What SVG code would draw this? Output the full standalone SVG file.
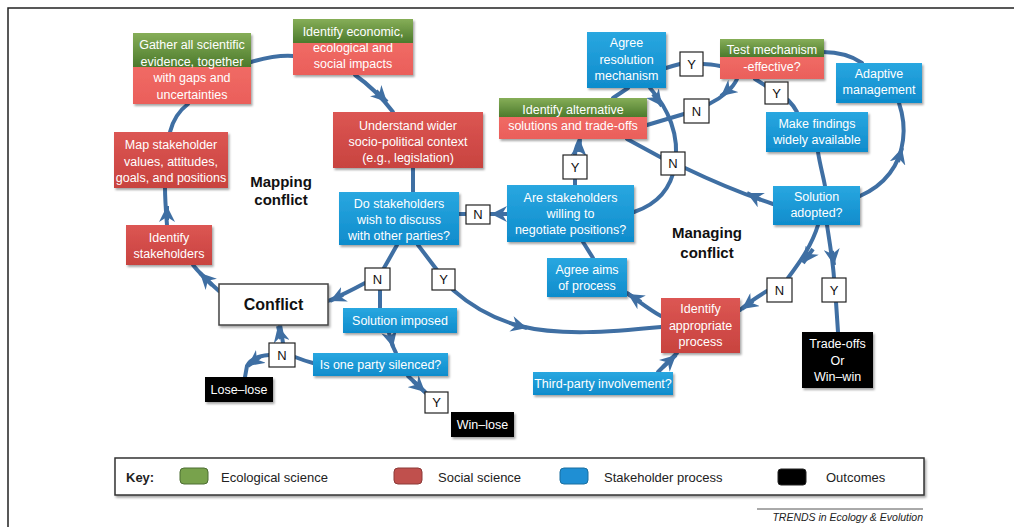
<svg xmlns="http://www.w3.org/2000/svg" width="1014" height="527" viewBox="0 0 1014 527">
<defs>
<linearGradient id="gBlue" x1="0" y1="0" x2="0" y2="1"><stop offset="0" stop-color="#29a7e0"/><stop offset="1" stop-color="#0f8ccc"/></linearGradient>
<linearGradient id="gRed" x1="0" y1="0" x2="0" y2="1"><stop offset="0" stop-color="#dc5653"/><stop offset="1" stop-color="#c8433f"/></linearGradient>
<linearGradient id="gGreen" x1="0" y1="0" x2="0" y2="1"><stop offset="0" stop-color="#86ae58"/><stop offset="1" stop-color="#4c7a2c"/></linearGradient>
<linearGradient id="gPink" x1="0" y1="0" x2="0" y2="1"><stop offset="0" stop-color="#f06a65"/><stop offset="1" stop-color="#ea5f5a"/></linearGradient>
<filter id="sh" x="-10%" y="-10%" width="130%" height="140%"><feDropShadow dx="1.5" dy="2" stdDeviation="1.2" flood-color="#000" flood-opacity="0.35"/></filter>
<marker id="ah" viewBox="0 0 16 16" markerWidth="16" markerHeight="16" refX="16" refY="8" orient="auto" markerUnits="userSpaceOnUse">
<path d="M0,0 L16,8 L0,16 L5,8 z" fill="#3f6fa3"/>
</marker>
<style>
.c{fill:none;stroke:#3f6fa3;stroke-width:4;stroke-linecap:round}
.a{fill:none;stroke:#3f6fa3;stroke-width:4;marker-end:url(#ah)}
.blue{fill:url(#gBlue);filter:url(#sh)}
.red{fill:url(#gRed);filter:url(#sh)}
.blk{fill:#050505;filter:url(#sh)}
.t{font-family:"Liberation Sans",Arial,sans-serif;font-size:12.5px;fill:#ffffff;text-anchor:middle}
.dec rect{fill:#ffffff;stroke:#222;stroke-width:1.2}
.dec text{font-family:"Liberation Sans",Arial,sans-serif;font-size:13px;fill:#111;text-anchor:middle}
.hd{font-family:"Liberation Sans",Arial,sans-serif;font-size:15px;font-weight:bold;fill:#111;text-anchor:middle}
.k{font-family:"Liberation Sans",Arial,sans-serif;font-size:13px;fill:#222}
</style>
</defs>
<rect width="1014" height="527" fill="#ffffff"/>
<path d="M8,527 L8,8 L1014,8" fill="none" stroke="#222" stroke-width="1.5"/>

<g id="connectors">
<path class="c" d="M251,62 C265,58 280,55 293,56"/>
<path class="c" d="M355,75 C368,84 380,95 393,112"/>
<path class="a" d="M376,91 L387,102"/>
<path class="c" d="M413,168 L413,192"/>
<path class="c" d="M507,214 L459,214"/>
<path class="a" d="M506,214 L491,214"/>
<path class="c" d="M575,185 L575,155 C575,148 578,144 580,139"/>
<path class="a" d="M579,152 L580,140"/>
<path class="c" d="M627,139 L662,158"/>
<path class="c" d="M685,168 C710,180 740,193 773,204"/>
<path class="a" d="M761,200 L747,193"/>
<path class="c" d="M650,88 C668,108 680,135 675,165 C671,190 655,205 634,212"/>
<path class="a" d="M653,94 L662,106"/>
<path class="c" d="M613,98 L628,88"/>
<path class="c" d="M666,68 C672,66 676,65 680,64"/>
<path class="c" d="M703,64 C710,64 715,65 720,66"/>
<path class="c" d="M737,79 C733,88 722,98 709,104"/>
<path class="a" d="M732,87 L721,96"/>
<path class="c" d="M684,114 L647,125"/>
<path class="c" d="M755,79 L766,86"/>
<path class="c" d="M788,100 C792,104 795,108 797,112"/>
<path class="c" d="M818,152 C820,165 823,175 825,186"/>
<path class="c" d="M860,196 C885,185 900,165 903,140 C905,125 902,112 899,103"/>
<path class="a" d="M898,162 L902,148"/>
<path class="c" d="M823,52 C840,52 852,56 862,63"/>
<path class="c" d="M818,225 C812,245 800,262 788,278"/>
<path class="a" d="M813,249 L803,263"/>
<path class="c" d="M767,291 C757,297 748,303 740,310"/>
<path class="a" d="M753,301 L742,309"/>
<path class="c" d="M827,225 C830,245 833,262 834,278"/>
<path class="a" d="M832,251 L834,265"/>
<path class="c" d="M836,302 L838,332"/>
<path class="c" d="M661,316 C650,310 640,302 627,293"/>
<path class="a" d="M641,302 L628,294"/>
<path class="c" d="M583,242 L593,258"/>
<path class="c" d="M658,372 L677,353"/>
<path class="a" d="M663,367 L676,355"/>
<path class="c" d="M418,245 L437,270"/>
<path class="c" d="M453,290 C470,305 490,318 520,326 C560,336 610,332 661,327"/>
<path class="a" d="M512,324 L527,328"/>
<path class="c" d="M397,245 L384,268"/>
<path class="c" d="M365,283 C352,290 340,296 328,301"/>
<path class="a" d="M343,295 L330,301"/>
<path class="c" d="M380,290 L380,308"/>
<path class="c" d="M389,333 C390,340 393,347 396,353"/>
<path class="a" d="M390,335 L393,347"/>
<path class="c" d="M313,363 C305,361 300,359 295,357"/>
<path class="c" d="M283,343 C282,336 281,330 280,325"/>
<path class="a" d="M281,339 L278,326"/>
<path class="c" d="M269,355 C257,356 250,360 247,366 L245,377"/>
<path class="a" d="M260,357 L248,366"/>
<path class="c" d="M408,376 L427,394"/>
<path class="a" d="M413,381 L425,392"/>
<path class="c" d="M219,291 C210,283 200,274 193,265"/>
<path class="a" d="M212,285 L200,273"/>
<path class="c" d="M167,225 C166,212 165,200 165,188"/>
<path class="a" d="M167,220 L167,206"/>
<path class="c" d="M170,132 C173,120 180,110 188,104"/>
</g>

<g id="n-gather">
<g filter="url(#sh)"><rect x="133" y="33" width="118" height="34" fill="url(#gGreen)"/><rect x="133" y="67" width="118" height="37" fill="url(#gPink)"/></g>
<text class="t" x="192" y="49">Gather all scientific</text>
<text class="t" x="192" y="66">evidence, together</text>
<text class="t" x="192" y="82">with gaps and</text>
<text class="t" x="192" y="99">uncertainties</text>
</g>
<g id="n-impacts">
<g filter="url(#sh)"><rect x="293" y="19" width="120" height="24" fill="url(#gGreen)"/><rect x="293" y="43" width="120" height="32" fill="url(#gPink)"/></g>
<text class="t" x="353" y="36">Identify economic,</text>
<text class="t" x="353" y="52">ecological and</text>
<text class="t" x="353" y="68">social impacts</text>
</g>
<g id="n-map">
<rect class="red" x="114" y="132" width="114" height="56"/>
<text class="t" x="171" y="149">Map stakeholder</text>
<text class="t" x="171" y="166">values, attitudes,</text>
<text class="t" x="171" y="182">goals, and positions</text>
</g>
<g id="n-identify-stakeholders">
<rect class="red" x="126" y="225" width="86" height="40"/>
<text class="t" x="169" y="242">Identify</text>
<text class="t" x="169" y="258">stakeholders</text>
</g>
<g id="n-conflict">
<rect x="219" y="284" width="109" height="41" fill="#fff" stroke="#444" stroke-width="1.5" filter="url(#sh)"/>
<text x="273.5" y="310" font-family="Liberation Sans, Arial, sans-serif" font-size="16" font-weight="bold" fill="#111" text-anchor="middle">Conflict</text>
</g>
<g id="n-understand">
<rect class="red" x="333" y="112" width="150" height="56"/>
<text class="t" x="408" y="130">Understand wider</text>
<text class="t" x="408" y="146">socio-political context</text>
<text class="t" x="408" y="162">(e.g., legislation)</text>
</g>
<g id="n-do-stakeholders">
<rect class="blue" x="339" y="192" width="120" height="53"/>
<text class="t" x="399" y="208">Do stakeholders</text>
<text class="t" x="399" y="224">wish to discuss</text>
<text class="t" x="399" y="240">with other parties?</text>
</g>
<g id="n-are-stakeholders">
<rect class="blue" x="507" y="185" width="127" height="57"/>
<text class="t" x="570.5" y="202">Are stakeholders</text>
<text class="t" x="570.5" y="218">willing to</text>
<text class="t" x="570.5" y="234">negotiate positions?</text>
</g>
<g id="n-alternatives">
<g filter="url(#sh)"><rect x="499" y="98" width="148" height="19" fill="url(#gGreen)"/><rect x="499" y="117" width="148" height="22" fill="url(#gPink)"/></g>
<text class="t" x="573" y="114">Identify alternative</text>
<text class="t" x="573" y="130">solutions and trade-offs</text>
</g>
<g id="n-agree-resolution">
<rect class="blue" x="587" y="32" width="79" height="56"/>
<text class="t" x="626.5" y="47">Agree</text>
<text class="t" x="626.5" y="64">resolution</text>
<text class="t" x="626.5" y="80">mechanism</text>
</g>
<g id="n-test">
<g filter="url(#sh)"><rect x="720" y="39" width="104" height="18" fill="url(#gGreen)"/><rect x="720" y="57" width="104" height="22" fill="url(#gPink)"/></g>
<text class="t" x="772" y="54">Test mechanism</text>
<text class="t" x="772" y="71">-effective?</text>
</g>
<g id="n-findings">
<rect class="blue" x="766" y="112" width="102" height="40"/>
<text class="t" x="817" y="128">Make findings</text>
<text class="t" x="817" y="144">widely available</text>
</g>
<g id="n-adaptive">
<rect class="blue" x="836" y="63" width="86" height="40"/>
<text class="t" x="879" y="78">Adaptive</text>
<text class="t" x="879" y="94">management</text>
</g>
<g id="n-solution-adopted">
<rect class="blue" x="773" y="186" width="87" height="39"/>
<text class="t" x="816.5" y="201">Solution</text>
<text class="t" x="816.5" y="217">adopted?</text>
</g>
<g id="n-agree-aims">
<rect class="blue" x="547" y="258" width="80" height="39"/>
<text class="t" x="587" y="274">Agree aims</text>
<text class="t" x="587" y="290">of process</text>
</g>
<g id="n-appropriate">
<rect class="red" x="661" y="298" width="79" height="55"/>
<text class="t" x="700.5" y="313">Identify</text>
<text class="t" x="700.5" y="330">appropriate</text>
<text class="t" x="700.5" y="346">process</text>
</g>
<g id="n-tradeoffs">
<rect class="blk" x="802" y="332" width="71" height="56"/>
<text class="t" x="837.5" y="348">Trade-offs</text>
<text class="t" x="837.5" y="365">Or</text>
<text class="t" x="837.5" y="381">Win–win</text>
</g>
<g id="n-third-party">
<rect class="blue" x="533" y="372" width="140" height="23"/>
<text class="t" x="603" y="388">Third-party involvement?</text>
</g>
<g id="n-imposed">
<rect class="blue" x="343" y="308" width="114" height="25"/>
<text class="t" x="400" y="325">Solution imposed</text>
</g>
<g id="n-silenced">
<rect class="blue" x="313" y="353" width="135" height="23"/>
<text class="t" x="380.5" y="369">Is one party silenced?</text>
</g>
<g id="n-lose-lose">
<rect class="blk" x="205" y="377" width="68" height="25"/>
<text class="t" x="239" y="394">Lose–lose</text>
</g>
<g id="n-win-lose">
<rect class="blk" x="451" y="412" width="63" height="25"/>
<text class="t" x="482.5" y="429">Win–lose</text>
</g>

<g id="decisions" class="dec">
<g id="d1"><rect x="466" y="205" width="24" height="19"/><text x="478" y="219">N</text></g>
<g id="d2"><rect x="563" y="155" width="24" height="24"/><text x="575" y="172">Y</text></g>
<g id="d3"><rect x="680" y="52" width="23" height="24"/><text x="691.5" y="69">Y</text></g>
<g id="d4"><rect x="684" y="99" width="25" height="24"/><text x="696.5" y="116">N</text></g>
<g id="d5"><rect x="765" y="82" width="23" height="22"/><text x="776.5" y="98">Y</text></g>
<g id="d6"><rect x="661" y="152" width="24" height="23"/><text x="673" y="168">N</text></g>
<g id="d7"><rect x="767" y="278" width="25" height="24"/><text x="779.5" y="295">N</text></g>
<g id="d8"><rect x="822" y="278" width="24" height="24"/><text x="834" y="295">Y</text></g>
<g id="d9"><rect x="365" y="268" width="25" height="22"/><text x="377.5" y="284">N</text></g>
<g id="d10"><rect x="432" y="269" width="23" height="21"/><text x="443.5" y="284">Y</text></g>
<g id="d11"><rect x="269" y="343" width="26" height="24"/><text x="282" y="360">N</text></g>
<g id="d12"><rect x="425" y="392" width="23" height="21"/><text x="436.5" y="407">Y</text></g>
</g>

<g id="labels">
<text class="hd" x="281" y="187">Mapping</text>
<text class="hd" x="281" y="205">conflict</text>
<text class="hd" x="707" y="238">Managing</text>
<text class="hd" x="707" y="258">conflict</text>
</g>

<g id="key">
<rect x="115" y="458" width="809" height="37" fill="#fff" stroke="#333" stroke-width="1.5" filter="url(#sh)"/>
<text class="k" x="126" y="482" font-weight="bold">Key:</text>
<rect x="180" y="468" width="28" height="16" rx="4" fill="#78a24c" stroke="#4d6e33"/>
<text class="k" x="221" y="482">Ecological science</text>
<rect x="394" y="468" width="28" height="16" rx="4" fill="#c0504d" stroke="#8c3a38"/>
<text class="k" x="438" y="482">Social science</text>
<rect x="560" y="468" width="28" height="16" rx="4" fill="#1f8fd4" stroke="#1a6fa0"/>
<text class="k" x="604" y="482">Stakeholder process</text>
<rect x="778" y="469" width="28" height="16" rx="3" fill="#000" stroke="#222"/>
<text class="k" x="826" y="482">Outcomes</text>
</g>

<g id="credit">
<line x1="757" y1="509" x2="923" y2="509" stroke="#555" stroke-width="1"/>
<text x="923" y="521" font-family="Liberation Sans, Arial, sans-serif" font-size="10.5" font-style="italic" fill="#222" text-anchor="end">TRENDS in Ecology &amp; Evolution</text>
</g>
</svg>
